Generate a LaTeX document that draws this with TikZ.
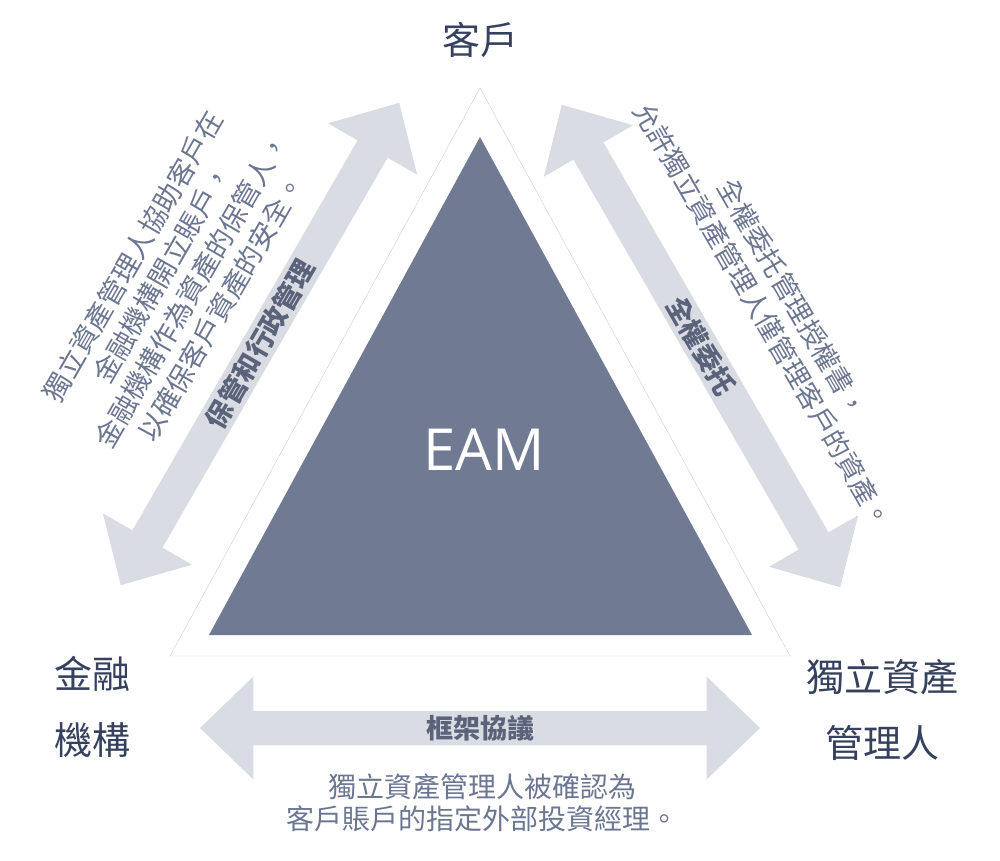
\documentclass[tikz,border=0pt]{standalone}
\usepackage{fontspec}
\usetikzlibrary{shapes.arrows,positioning}
\setmainfont{Noto Sans CJK TC}
\newfontfamily\eamfont{Open Sans}
\definecolor{eamblue}{HTML}{717A93}
\definecolor{arrowgray}{HTML}{D9DCE3}
\definecolor{edgegray}{HTML}{CDD0D8}
\definecolor{partytext}{HTML}{36415E}
\definecolor{labeltext}{HTML}{5A6379}
\definecolor{notetext}{HTML}{6C7691}

\begin{document}
\begin{tikzpicture}[x=1pt, y=-1pt,
    party/.style = {text=partytext, align=center, font=\fontsize{38}{66}\selectfont},
    bigarrow/.style = {double arrow, fill=arrowgray, minimum width=103pt,
      double arrow head extend=26pt, double arrow tip angle=88, inner sep=0pt,
      text=labeltext, font=\fontsize{27}{30}\selectfont\bfseries},
    note/.style = {text=notetext, align=center, inner sep=0pt}]
  \useasboundingbox (0,0) rectangle (1000,860);
  % the two triangles
  \draw[edgegray, fill=white] (480,88) -- (790,656) -- (170,656) -- cycle;
  \fill[eamblue] (480,137) -- (752,635) -- (209,635) -- cycle;
  \node[text=white, font=\eamfont\fontsize{58}{58}\selectfont] (eam) at (484,450) {EAM};
  % the three parties
  \node[party] (client) at (480,40) {客戶};
  \node[party] (bank) at (92,707) {金融\\機構};
  \node[party] (manager) at (882,710) {獨立資產\\管理人};
  % the three relations
  \node[bigarrow, minimum height=557pt, rotate=60] (custody) at (260,344) {保管和行政管理};
  \node[bigarrow, minimum height=557pt, rotate=-60] (mandate) at (701,346) {全權委托};
  \node[bigarrow, minimum height=560pt] (agreement) at (480,728) {框架協議};
  \node[note, rotate=60, font=\fontsize{27.5}{34}\selectfont] (custodynote) at (177,282)
    {獨立資產管理人協助客戶在\\金融機構開立賬戶，\\金融機構作為資產的保管人，\\以確保客戶資產的安全。};
  \node[note, rotate=-60, font=\fontsize{27}{34}\selectfont] (mandatenote) at (778,307)
    {全權委托管理授權書，\\允許獨立資產管理人僅管理客戶的資產。};
  \node[note, font=\fontsize{28}{32}\selectfont] (agreementnote) at (482,803)
    {獨立資產管理人被確認為\\客戶賬戶的指定外部投資經理。};
\end{tikzpicture}
\end{document}
